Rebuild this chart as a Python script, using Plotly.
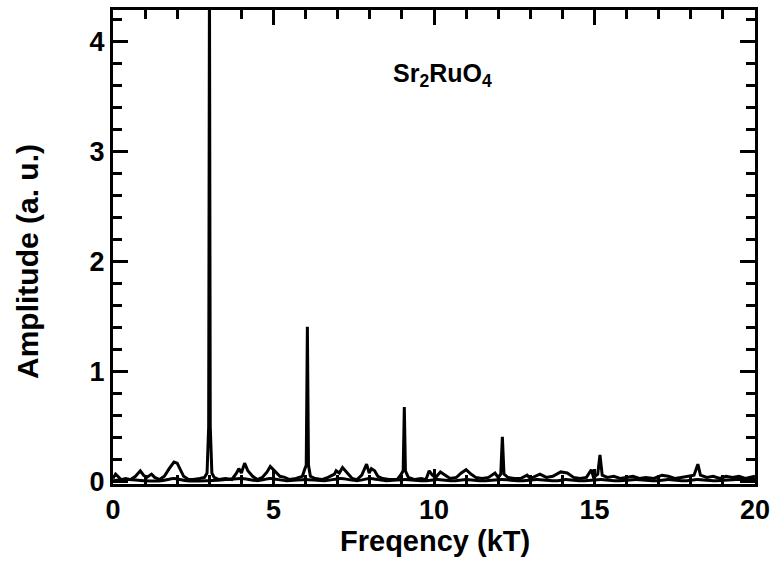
import plotly.graph_objects as go

# Frequency (kT) and amplitude (a.u.)
freq = [0.0, 0.08, 0.15, 0.25, 0.4, 0.55, 0.7, 0.85, 0.95, 1.05, 1.2, 1.3, 1.45, 1.6, 1.75, 1.9, 2.0,
        2.1, 2.2, 2.35, 2.5, 2.7, 2.85, 2.93, 2.98, 3.005, 3.03, 3.08, 3.15, 3.3, 3.5, 3.7, 3.85,
        3.92, 4.0, 4.1, 4.2, 4.35, 4.5, 4.65, 4.8, 4.9, 5.0, 5.1, 5.2, 5.35, 5.5, 5.7, 5.9, 5.98,
        6.02, 6.055, 6.09, 6.15, 6.3, 6.5, 6.7, 6.9, 6.95, 7.05, 7.15, 7.3, 7.45, 7.6, 7.75, 7.9,
        7.98, 8.05, 8.15, 8.25, 8.4, 8.6, 8.85, 8.98, 9.04, 9.075, 9.11, 9.2, 9.4, 9.6, 9.75, 9.85,
        9.95, 10.05, 10.2, 10.35, 10.5, 10.7, 10.85, 11.0, 11.15, 11.3, 11.5, 11.7, 11.9, 12.0,
        12.08, 12.13, 12.18, 12.3, 12.5, 12.7, 12.9, 13.0, 13.3, 13.5, 13.7, 13.95, 14.15, 14.35,
        14.55, 14.75, 14.9, 14.97, 15.1, 15.17, 15.24, 15.4, 15.6, 15.8, 16.0, 16.2, 16.4, 16.6,
        16.85, 17.1, 17.3, 17.5, 17.7, 17.9, 18.1, 18.22, 18.3, 18.5, 18.7, 18.9, 19.1, 19.3,
        19.5, 19.7, 19.9, 20.0]
amp = [0.03, 0.07, 0.05, 0.02, 0.03, 0.02, 0.05, 0.10, 0.06, 0.04, 0.07, 0.04, 0.02, 0.05, 0.12, 0.18, 0.17,
       0.11, 0.05, 0.02, 0.02, 0.03, 0.04, 0.08, 0.5, 4.6, 0.5, 0.08, 0.04, 0.02, 0.03, 0.02, 0.08,
       0.12, 0.08, 0.17, 0.10, 0.05, 0.02, 0.04, 0.09, 0.14, 0.11, 0.08, 0.05, 0.04, 0.02, 0.03, 0.05, 0.12,
       0.15, 1.41, 0.15, 0.05, 0.03, 0.02, 0.04, 0.07, 0.10, 0.08, 0.13, 0.08, 0.03, 0.02, 0.06, 0.16,
       0.08, 0.12, 0.10, 0.05, 0.03, 0.02, 0.02, 0.07, 0.10, 0.68, 0.10, 0.04, 0.02, 0.03, 0.02, 0.10,
       0.06, 0.04, 0.09, 0.06, 0.03, 0.04, 0.08, 0.11, 0.07, 0.04, 0.03, 0.04, 0.08, 0.04,
       0.07, 0.41, 0.07, 0.04, 0.03, 0.03, 0.06, 0.03, 0.07, 0.04, 0.05, 0.09, 0.08, 0.04,
       0.03, 0.04, 0.11, 0.04, 0.07, 0.245, 0.06, 0.04, 0.05, 0.03, 0.04, 0.05, 0.03, 0.04,
       0.03, 0.06, 0.05, 0.03, 0.04, 0.05, 0.06, 0.16, 0.06, 0.04, 0.05, 0.03, 0.05, 0.04,
       0.05, 0.03, 0.04, 0.05]

# Second (lower) curve forming the baseline under the bumps
freq_low = [0.0, 0.5, 1.0, 1.5, 1.9, 2.3, 2.9, 3.5, 4.0, 4.5, 4.9, 5.4, 6.0, 6.6, 7.1, 7.6, 8.0,
            8.5, 9.1, 9.7, 10.1, 10.6, 11.0, 11.5, 12.1, 12.7, 13.2, 13.8, 14.1, 14.6, 15.2,
            15.7, 16.3, 16.9, 17.3, 17.8, 18.2, 18.8, 19.4, 20.0]
amp_low = [0.01, 0.02, 0.01, 0.01, 0.03, 0.01, 0.01, 0.02, 0.03, 0.01, 0.03, 0.01, 0.02, 0.01, 0.03, 0.01, 0.03,
           0.01, 0.02, 0.01, 0.02, 0.01, 0.02, 0.01, 0.02, 0.01, 0.02, 0.01, 0.02, 0.01, 0.02,
           0.01, 0.02, 0.01, 0.02, 0.01, 0.02, 0.01, 0.02, 0.02]

x_ticks = [0, 5, 10, 15, 20]
y_ticks = [0, 1, 2, 3, 4]

font_family = "Liberation Sans, Arial, sans-serif"

fig = go.Figure()
fig.add_trace(go.Scatter(x=freq_low, y=amp_low, mode="lines",
                         line=dict(color="black", width=3, shape="spline", smoothing=0.6),
                         showlegend=False, hoverinfo="skip"))
fig.add_trace(go.Scatter(x=freq, y=amp, mode="lines",
                         line=dict(color="black", width=3),
                         showlegend=False))

fig.add_annotation(x=10.25, y=3.7, xref="x", yref="y",
                   text="Sr<sub>2</sub>RuO<sub>4</sub>", showarrow=False,
                   xanchor="center", yanchor="middle",
                   font=dict(family=font_family, size=25, color="black", weight="bold"))

# Axis titles placed as annotations for exact positioning (pixel centres)
fig.add_annotation(x=27, y=561 - 262, xref="paper", yref="paper", showarrow=False,
                   text="Amplitude (a. u.)", textangle=-90,
                   xanchor="center", yanchor="middle",
                   font=dict(family=font_family, size=30, color="black", weight="bold"))
fig.add_annotation(x=435, y=561 - 541, xref="paper", yref="paper", showarrow=False,
                   text="Freqency (kT)",
                   xanchor="center", yanchor="middle",
                   font=dict(family=font_family, size=29, color="black", weight="bold"))

axis_common = dict(
    showgrid=False, zeroline=False, showline=True, linecolor="black", linewidth=3,
    mirror="allticks", ticks="inside", ticklen=15, tickwidth=3, tickcolor="black",
    automargin=False,
    tickfont=dict(family=font_family, size=27, color="black", weight="bold"),
)

fig.update_xaxes(range=[0, 20], tickvals=x_ticks, ticktext=[str(v) for v in x_ticks],
                 minor=dict(dtick=1, ticks="inside", ticklen=9, tickwidth=3, tickcolor="black"),
                 **axis_common)
fig.update_yaxes(range=[-0.02, 4.29], tickvals=y_ticks, ticktext=[str(v) for v in y_ticks],
                 minor=dict(dtick=0.2, tick0=0, ticks="inside", ticklen=9, tickwidth=3, tickcolor="black"),
                 **axis_common)

fig.update_layout(
    width=772, height=561,
    margin=dict(l=113, r=17, t=10, b=77),
    paper_bgcolor="white", plot_bgcolor="white",
)

# convert the pixel positions of the title annotations into paper fractions
plot_w = 772 - 113 - 17
plot_h = 561 - 10 - 77
for ann in fig.layout.annotations[1:]:
    ann.x = (ann.x - 113) / plot_w
    ann.y = (ann.y - 77) / plot_h

fig.write_html("out.html")
